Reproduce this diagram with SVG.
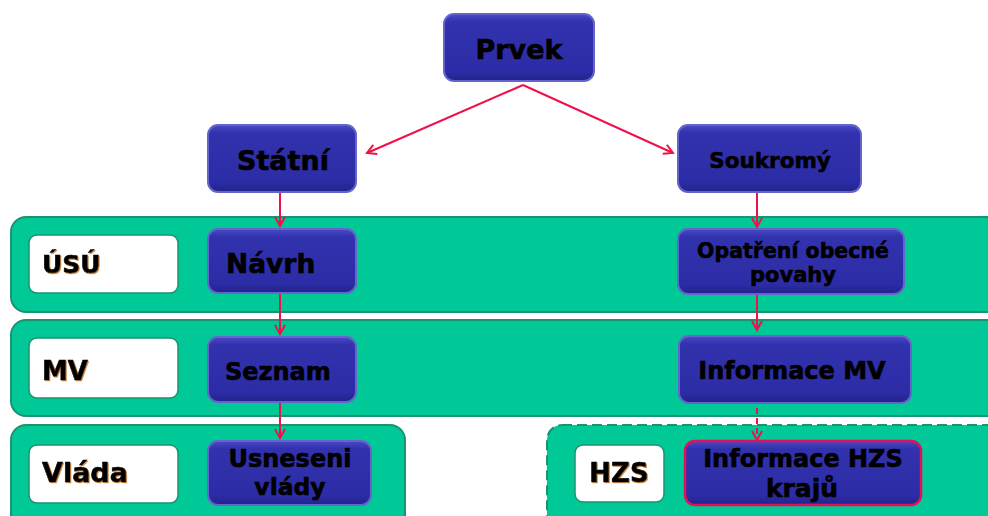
<svg xmlns="http://www.w3.org/2000/svg" width="988" height="516" viewBox="0 0 988 516">
<defs>
<linearGradient id="bg" x1="0" y1="0" x2="0" y2="1">
<stop offset="0" stop-color="#4a4ac4"/>
<stop offset="0.12" stop-color="#3232ae"/>
<stop offset="0.85" stop-color="#2c2ca6"/>
<stop offset="1" stop-color="#22228a"/>
</linearGradient>
<filter id="ts" x="-10%" y="-10%" width="130%" height="130%">
<feDropShadow dx="1" dy="1" stdDeviation="0.5" flood-color="#c07020" flood-opacity="0.8"/>
</filter>
<marker id="ah" viewBox="0 0 12 12" refX="10" refY="6" markerWidth="12" markerHeight="12" markerUnits="userSpaceOnUse" orient="auto">
<path d="M1,1 L10,6 L1,11" fill="none" stroke="#f0104a" stroke-width="2"/>
</marker>
</defs>
<style>
.band{fill:#00c896;stroke:#1a9470;stroke-width:2}
.dash{stroke-dasharray:10 5}
.lbl{fill:#fff;stroke:#1a9470;stroke-width:1.5}
.node{fill:url(#bg);stroke:#6464cc;stroke-width:2}
.hl{stroke:#e0105a;stroke-width:2.5}
text{font-family:"DejaVu Sans","Verdana",sans-serif;font-weight:bold;fill:#000;stroke:#000;stroke-width:0.6}
.lt{filter:url(#ts)}
.c{text-anchor:middle}
.e{fill:none;stroke:#f0104a;stroke-width:2;marker-end:url(#ah)}
</style>
<rect width="988" height="516" fill="#fff"/>

<g id="band-usu"><rect class="band" x="11" y="217" width="990" height="95" rx="15"/></g>
<g id="band-mv"><rect class="band" x="11" y="320" width="990" height="96" rx="15"/></g>
<g id="band-vlada"><rect class="band" x="11" y="425" width="394" height="110" rx="15"/></g>
<g id="band-hzs"><rect class="band dash" x="547" y="425" width="460" height="110" rx="15"/></g>

<g id="label-usu"><rect class="lbl" x="29" y="235" width="149" height="58" rx="8"/><text class="lt" x="42" y="273" font-size="25">ÚSÚ</text></g>
<g id="label-mv"><rect class="lbl" x="29" y="338" width="149" height="60" rx="8"/><text class="lt" x="42" y="380" font-size="26">MV</text></g>
<g id="label-vlada"><rect class="lbl" x="29" y="445" width="149" height="58" rx="8"/><text class="lt" x="42" y="482" font-size="27">Vláda</text></g>
<g id="label-hzs"><rect class="lbl" x="575" y="445" width="89" height="57" rx="8"/><text class="lt c" x="619" y="482" font-size="26">HZS</text></g>

<g id="connectors">
<path class="e" d="M523,85 L367,153"/>
<path class="e" d="M523,85 L673,153"/>
<path class="e" d="M280,193 L280,226"/>
<path class="e" d="M280,293 L280,334"/>
<path class="e" d="M280,403 L280,438"/>
<path class="e" d="M757,193 L757,227"/>
<path class="e" d="M757,295 L757,330"/>
<path class="e" d="M757,408 L757,440" stroke-dasharray="6 4"/>
</g>

<g id="prvek"><rect class="node" x="444" y="14" width="150" height="67" rx="10"/><text class="c" x="519" y="59" font-size="27">Prvek</text></g>
<g id="statni"><rect class="node" x="208" y="125" width="148" height="67" rx="10"/><text class="c" x="283" y="170" font-size="27">Státní</text></g>
<g id="soukromy"><rect class="node" x="678" y="125" width="183" height="67" rx="10"/><text class="c" x="770" y="168" font-size="21.5">Soukromý</text></g>
<g id="navrh"><rect class="node" x="208" y="229" width="148" height="64" rx="10"/><text x="226" y="273" font-size="26.5">Návrh</text></g>
<g id="opatreni"><rect class="node" x="678" y="229" width="226" height="65" rx="10"/><text class="c" x="793" y="258" font-size="20.5">Opatření obecné</text><text class="c" x="793" y="282" font-size="21">povahy</text></g>
<g id="seznam"><rect class="node" x="208" y="337" width="148" height="65" rx="10"/><text x="225" y="380" font-size="24">Seznam</text></g>
<g id="informace-mv"><rect class="node" x="679" y="336" width="232" height="67" rx="10"/><text class="c" x="792" y="379" font-size="24">Informace MV</text></g>
<g id="usneseni"><rect class="node" x="208" y="441" width="163" height="64" rx="10"/><text class="c" x="290" y="467" font-size="24">Usneseni</text><text class="c" x="290" y="495" font-size="23.5">vlády</text></g>
<g id="informace-hzs"><rect class="node hl" x="685" y="441" width="236" height="64" rx="10"/><text class="c" x="803" y="467" font-size="24">Informace HZS</text><text class="c" x="802" y="497" font-size="25">krajů</text></g>
</svg>
